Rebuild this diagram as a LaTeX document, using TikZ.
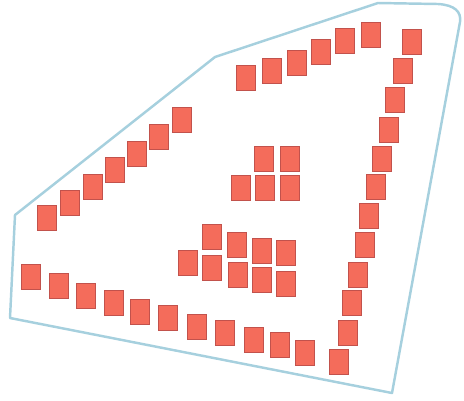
\documentclass[tikz,border=0pt]{standalone}
\usepackage{tikz}
\usetikzlibrary{positioning}
\definecolor{tilered}{HTML}{F46C5B}
\definecolor{tileedge}{HTML}{C2524C}
\definecolor{hullblue}{HTML}{A6D0DE}

\begin{document}
\begin{tikzpicture}[
    x=0.02cm, y=-0.02cm,
    tile/.style={draw=tileedge, line width=0.4pt, fill=tilered,
                 minimum width=0.38cm, minimum height=0.5cm, inner sep=0pt},
    hull/.style={draw=hullblue, line width=1.4pt, line join=round}
  ]
  \useasboundingbox (0,0) rectangle (464,400);
  % outline
  \draw[hull] (15,215) -- (215,57) -- (378,3) -- (438,4)
    .. controls (455,5) and (461.5,12) .. (460,22) -- (392,393) -- (10,318) -- cycle;
  % left diagonal row
  \foreach \x/\y [count=\i] in {47/218, 70/203, 93/187, 115/170, 137/154,
                                159/137, 182/120}
    \node[tile] (diag\i) at (\x,\y) {};
  % top row
  \foreach \x/\y [count=\i] in {246/78, 272/71, 297/63, 321/52, 345/41, 371/35}
    \node[tile] (top\i) at (\x,\y) {};
  % right column
  \foreach \x/\y [count=\i] in {412/42, 403/71, 395/100, 389/130, 382/159,
                                376/187, 369/216, 365/245, 358/275, 352/303,
                                348/333, 339/362}
    \node[tile] (right\i) at (\x,\y) {};
  % bottom row
  \foreach \x/\y [count=\i] in {31/277, 59/286, 86/296, 114/303, 140/312,
                                168/318, 197/327, 225/333, 254/340, 280/345,
                                305/353}
    \node[tile] (bot\i) at (\x,\y) {};
  % inner upper block
  \foreach \x/\y [count=\i] in {264/159, 290/159, 241/188, 265/188, 290/188}
    \node[tile] (up\i) at (\x,\y) {};
  % inner lower block
  \foreach \x/\y [count=\i] in {212/237, 237/245, 262/251, 286/253,
                                188/263, 212/268, 238/275, 262/280, 286/284}
    \node[tile] (low\i) at (\x,\y) {};
\end{tikzpicture}
\end{document}
